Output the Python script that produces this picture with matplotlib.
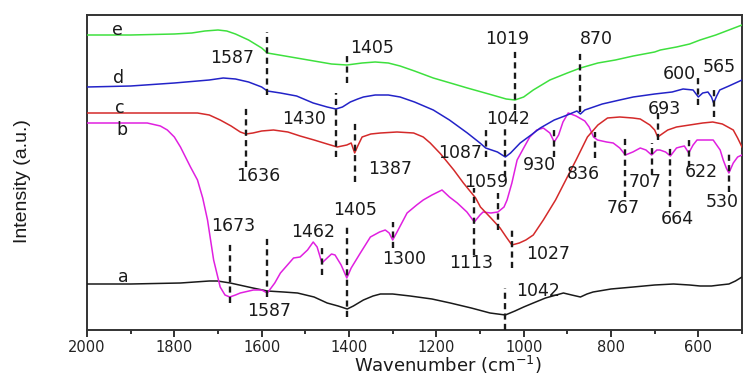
import matplotlib
matplotlib.use("Agg")
import matplotlib.pyplot as plt
from matplotlib.ticker import MultipleLocator

# ---------------- data (wavenumber in cm-1, intensity in a.u.) ----------------
wn_e = [2000, 1900, 1800, 1760, 1730, 1700, 1680, 1660, 1630, 1600, 1587, 1560, 1520, 1480,
        1440, 1405, 1370, 1340, 1310, 1283, 1250, 1207, 1160, 1129, 1080, 1040, 1020, 1000,
        978, 940, 900, 870, 830, 790, 749, 700, 687, 650, 620, 596, 560, 530, 500]
int_e = [295, 295, 296, 297, 299, 300, 299, 296, 290, 282, 277, 275, 272, 269,
         266, 265, 267, 268, 267, 264, 259, 252, 246, 242, 236, 231, 230, 233,
         240, 250, 257, 262, 267, 270, 274, 278, 280, 283, 286, 290, 295, 300, 305]

wn_d = [2000, 1900, 1800, 1720, 1688, 1660, 1630, 1600, 1587, 1557, 1520, 1482, 1450, 1430,
        1415, 1397, 1380, 1367, 1340, 1310, 1283, 1250, 1207, 1170, 1129, 1100, 1087, 1060,
        1042, 1030, 1008, 980, 962, 930, 900, 878, 870, 860, 820, 780, 749, 700, 660, 635,
        612, 600, 590, 578, 570, 565, 558, 551, 530, 500]
int_d = [243, 244, 247, 250, 252, 251, 248, 243, 239, 237, 234, 227, 223, 221,
         223, 228, 231, 233, 235, 235, 233, 228, 220, 210, 197, 187, 182, 178,
         173, 177, 187, 196, 202, 210, 215, 219, 216, 220, 226, 230, 233, 236, 238, 241,
         240, 233, 237, 238, 233, 227, 234, 240, 244, 250]

wn_c = [2000, 1900, 1800, 1747, 1720, 1695, 1670, 1649, 1636, 1620, 1600, 1573, 1540, 1512,
        1480, 1450, 1427, 1405, 1395, 1387, 1380, 1370, 1350, 1328, 1290, 1252, 1230, 1214,
        1190, 1160, 1138, 1110, 1099, 1075, 1054, 1040, 1027, 1010, 995, 978, 955, 927, 900,
        880, 854, 830, 808, 780, 750, 733, 711, 700, 693, 680, 670, 650, 620, 590, 567, 545,
        520, 510, 500]
int_c = [217, 217, 217, 217, 215, 210, 204, 198, 196, 197, 199, 200, 198, 194,
         190, 186, 183, 185, 187, 177, 184, 193, 196, 197, 198, 197, 193, 187,
         176, 160, 147, 132, 123, 112, 102, 93, 85, 87, 90, 95, 110, 130, 153,
         170, 193, 205, 212, 213, 212, 211, 205, 200, 193, 197, 200, 203, 205, 207, 208, 206,
         200, 192, 183]

wn_b = [2000, 1900, 1862, 1832, 1816, 1800, 1786, 1763, 1747, 1735, 1724, 1710, 1695, 1684,
        1673, 1660, 1649, 1619, 1600, 1587, 1570, 1557, 1527, 1512, 1495, 1482, 1473, 1462,
        1450, 1440, 1432, 1418, 1405, 1395, 1374, 1351, 1330, 1317, 1308, 1300, 1290, 1267,
        1245, 1230, 1210, 1187, 1170, 1152, 1130, 1113, 1100, 1093, 1075, 1059, 1045, 1038,
        1027, 1015, 1000, 986, 970, 955, 940, 930, 920, 910, 898, 880, 860, 850, 840, 831,
        810, 795, 780, 767, 750, 733, 720, 707, 695, 688, 675, 664, 650, 642, 632, 622, 612,
        603, 580, 566, 550, 543, 536, 530, 520, 510, 500]
int_b = [207, 207, 207, 204, 200, 193, 183, 163, 150, 132, 110, 70, 43, 35,
         33, 35, 37, 40, 40, 37, 47, 57, 72, 73, 80, 88, 83, 67,
         72, 76, 75, 65, 52, 62, 77, 93, 98, 100, 97, 90, 98, 117,
         125, 130, 135, 140, 133, 127, 118, 108, 115, 118, 117, 118, 123, 130,
         147, 170, 182, 193, 200, 202, 197, 188, 195, 208, 217, 214, 209, 203, 193, 190,
         188, 187, 182, 175, 178, 182, 180, 175, 180, 180, 178, 174, 182, 183, 184, 177, 185,
         190, 190, 190, 180, 170, 162, 157, 167, 173, 175]

wn_a = [2000, 1900, 1786, 1720, 1701, 1672, 1620, 1587, 1550, 1518, 1480, 1450, 1425, 1404,
        1390, 1367, 1345, 1328, 1300, 1260, 1210, 1168, 1120, 1077, 1042, 1020, 1000, 978,
        950, 909, 890, 870, 855, 841, 800, 749, 700, 657, 620, 596, 570, 551, 530, 515, 500]
int_a = [46, 46, 47, 49, 49, 47, 42, 39, 38, 37, 33, 27, 24, 21,
         24, 30, 34, 36, 36, 34, 31, 27, 22, 17, 15, 19, 23, 27,
         32, 37, 35, 33, 36, 38, 41, 43, 45, 46, 45, 44, 44, 45, 46, 49, 53]

series_names = ["a", "b", "c", "d", "e"]
series_colors = ["#1a1a1a", "#e020e0", "#d42a2a", "#2323c8", "#3ee03e"]

# peak annotations: label, wavenumber of dashed line, line bottom, line top, text x, text y
peaks = [
    ("1587", 1587, 235, 298, 1667, 272),
    ("1405", 1405, 247, 275, 1347, 282),
    ("1019", 1019, 220, 282, 1038, 291),
    ("870", 870, 218, 280, 834, 291),
    ("1430", 1430, 173, 237, 1502, 211),
    ("600", 600, 225, 252, 644, 256),
    ("565", 565, 213, 240, 552, 263),
    ("1042", 1042, 153, 205, 1035, 211),
    ("1087", 1087, 173, 200, 1145, 177),
    ("1636", 1636, 163, 223, 1608, 154),
    ("1387", 1387, 148, 210, 1305, 161),
    ("693", 693, 190, 217, 678, 221),
    ("1027", 1027, 62, 102, 944, 76),
    ("930", 930, 173, 203, 964, 165),
    ("836", 836, 172, 198, 863, 156),
    ("767", 767, 133, 195, 772, 122),
    ("707", 707, 155, 187, 721, 148),
    ("664", 664, 123, 183, 648, 111),
    ("622", 622, 163, 193, 593, 158),
    ("530", 530, 138, 178, 545, 128),
    ("1059", 1059, 100, 137, 1086, 148),
    ("1113", 1113, 75, 142, 1120, 67),
    ("1300", 1300, 82, 108, 1273, 71),
    ("1405", 1405, 13, 105, 1386, 120),
    ("1462", 1462, 55, 83, 1482, 98),
    ("1673", 1673, 27, 88, 1665, 104),
    ("1587", 1587, 33, 95, 1583, 19),
    ("1042", 1042, 0, 42, 967, 39),
]

# curve letter positions (wavenumber, intensity)
letter_pos = {"e": (1931, 300), "d": (1928, 252), "c": (1926, 222), "b": (1919, 200), "a": (1917, 53)}

# ---------------- figure ----------------
fig = plt.figure(figsize=(7.43, 3.77), dpi=100)
ax = fig.add_axes([87 / 743, 1 - 330 / 377, 655 / 743, 315 / 377])

curves = {"a": (wn_a, int_a), "b": (wn_b, int_b), "c": (wn_c, int_c),
          "d": (wn_d, int_d), "e": (wn_e, int_e)}
for name, col in zip(series_names, series_colors):
    x, y = curves[name]
    ax.plot(x, y, color=col, lw=1.1, zorder=3)

for lab, w, y0, y1, tx, ty in peaks:
    ax.plot([w, w], [y0, y1], color="#1a1a1a", lw=1.7, linestyle=(0, (2.6, 1.8)), zorder=4)
    ax.text(tx, ty, lab, ha="center", va="center", fontsize=12.5,
            family="DejaVu Sans", color="#1a1a1a", zorder=5)

for name, (tx, ty) in letter_pos.items():
    ax.text(tx, ty, name, ha="center", va="center", fontsize=12.5,
            family="DejaVu Sans", color="#1a1a1a", zorder=5)

ax.set_xlim(2000, 500)
ax.set_ylim(0, 315)
ax.xaxis.set_major_locator(MultipleLocator(200))
ax.xaxis.set_minor_locator(MultipleLocator(100))
ax.set_yticks([])
ax.tick_params(axis="x", which="major", direction="out", length=5, width=1.3,
               labelsize=10.5, pad=2, colors="#222222")
ax.tick_params(axis="x", which="minor", direction="out", length=3, width=1.3, colors="#222222")
for lbl in ax.get_xticklabels():
    lbl.set_family("DejaVu Sans")
for sp in ax.spines.values():
    sp.set_linewidth(1.4)
    sp.set_color("#333333")

ax.set_xlabel("Wavenumber (cm$^{-1}$)", fontsize=13, family="DejaVu Sans", color="#1a1a1a")
ax.xaxis.set_label_coords(0.551, -0.111)
ax.xaxis.label.set_va("center")
ax.set_ylabel("Intensity (a.u.)", fontsize=14,
              family=["Liberation Sans Narrow", "Liberation Sans", "DejaVu Sans"], color="#1a1a1a")
ax.yaxis.set_label_coords(-0.099, 0.473)
ax.yaxis.label.set_va("center")

fig.savefig("out.png", dpi=100)
